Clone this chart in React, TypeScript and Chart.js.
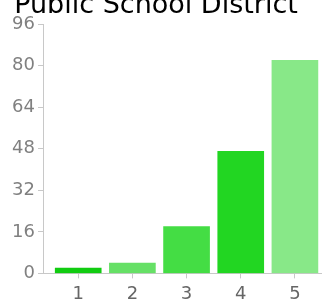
import React, { useEffect, useRef } from 'react';
import { Chart, registerables } from 'chart.js';

Chart.register(...registerables);

const TITLE = 'Public School District';
const categories = ['1', '2', '3', '4', '5'];
const xPositions = [1, 2, 3, 4, 5];
const values = [2, 4, 18, 47, 82];
const colors = ['#11cc11', '#66e066', '#44dd44', '#22d622', '#88e888'];
const yMin = 0;
const yMax = 96;
const yStep = 16;

export default function App() {
  const ref = useRef<HTMLCanvasElement>(null);
  useEffect(() => {
    const chart = new Chart(ref.current!, {
      type: 'bar',
      data: {
        datasets: [
          {
            data: xPositions.map((x, i) => ({ x, y: values[i] })),
            backgroundColor: colors,
            borderWidth: 0,
            barThickness: 46,
          },
        ],
      },
      options: {
        animation: false,
        responsive: false,
        maintainAspectRatio: false,
        layout: { padding: { left: -10, right: 0, top: 0, bottom: 2 } },
        plugins: {
          legend: { display: false },
          tooltip: { enabled: false },
          title: {
            display: true,
            text: TITLE,
            color: '#000',
            font: { family: 'DejaVu Sans', size: 27, weight: 'normal', lineHeight: 1.0 },
            padding: { top: 0, bottom: 5 },
          },
        },
        scales: {
          x: {
            type: 'linear',
            offset: false,
            min: 0.35,
            max: 5.5,
            afterBuildTicks: (s: any) => {
              s.ticks = xPositions.map((v) => ({ value: v }));
            },
            ticks: {
              callback: (v: any) => categories[xPositions.indexOf(Number(v))] ?? '',
              color: '#666',
              font: { family: 'DejaVu Sans', size: 18 },
              padding: 5,
              maxRotation: 0,
              autoSkip: false,
            },
            grid: { drawOnChartArea: false, offset: false, tickLength: 5, color: '#c8c8c8' },
            border: { color: '#c8c8c8' },
          },
          y: {
            min: yMin,
            max: yMax,
            afterFit: (s: any) => {
              s.width = 53;
            },
            ticks: {
              stepSize: yStep,
              color: '#808080',
              font: { family: 'DejaVu Sans', size: 18 },
              padding: 3,
            },
            grid: { drawOnChartArea: false, tickLength: 5, color: '#c8c8c8' },
            border: { color: '#c8c8c8' },
          },
        },
      },
    });
    return () => chart.destroy();
  }, []);
  return (
    <div style={{ position: 'fixed', left: 0, top: 0, width: 322, height: 300, overflow: 'hidden', background: '#fff' }}>
      <canvas
        ref={ref}
        width={322}
        height={320}
        style={{ position: 'absolute', left: 0, top: -8, width: 322, height: 320 }}
      />
    </div>
  );
}
